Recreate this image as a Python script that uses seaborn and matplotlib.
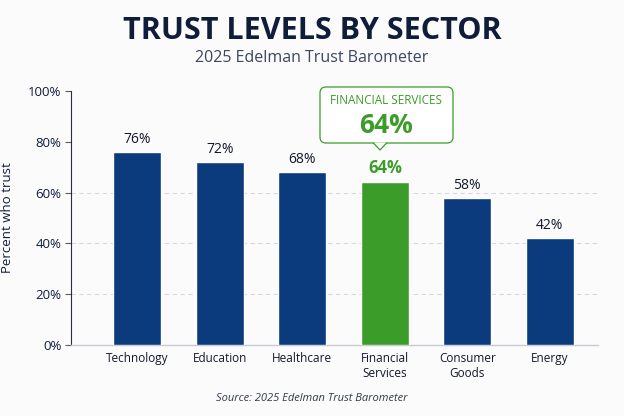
import matplotlib
matplotlib.use("Agg")
import matplotlib.pyplot as plt
import seaborn as sns
import pandas as pd
from matplotlib.patches import FancyBboxPatch, Polygon

# Datos del grafico
sectors = ["Technology", "Education", "Healthcare", "Financial\nServices", "Consumer\nGoods", "Energy"]
trust = [76, 72, 68, 64, 58, 42]
highlight = "Financial\nServices"
yticks = [0, 20, 40, 60, 80, 100]

navy = "#0b3b7c"
green = "#3c9c2a"
dark = "#0f1d3a"

sns.set_theme(style="white")
plt.rcParams["font.family"] = ["Open Sans", "DejaVu Sans"]

df = pd.DataFrame({"sector": sectors, "trust": trust})
colors = [green if s == highlight else navy for s in sectors]

fig = plt.figure(figsize=(6.24, 4.16), dpi=100, facecolor="#fbfbfc")
ax = fig.add_axes([0.114, 0.171, 0.844, 0.61])
ax.set_facecolor("#fbfbfc")

sns.barplot(data=df, x="sector", y="trust", hue="sector", palette=colors,
            legend=False, width=0.58, saturation=1, ax=ax, zorder=3)

# lineas de grilla punteadas
for g in [20, 40, 60]:
    ax.axhline(g, color="#d5d8de", lw=0.8, ls=(0, (4, 3)), zorder=1)

ax.set_xlim(-0.8, 5.58)
ax.set_ylim(0, 100)
ax.set_yticks(yticks)
ax.set_yticklabels([f"{t}%" for t in yticks], fontsize=9.5, color=dark)
ax.tick_params(axis="y", length=4, width=0.8, color="#555b66", left=True, pad=3)
ax.tick_params(axis="x", length=0, labelsize=8.5, labelcolor="#14192a", pad=5)
ax.set_xlabel("")
ax.set_ylabel("Percent who trust", fontsize=9.5, color=dark, labelpad=10)

sns.despine(ax=ax)
ax.spines["left"].set_color("#2a2f3a")
ax.spines["left"].set_linewidth(0.8)
ax.spines["bottom"].set_color("#c8ccd2")
ax.spines["bottom"].set_linewidth(1.0)

# etiquetas de valor
for i, (s, v) in enumerate(zip(sectors, trust)):
    if s == highlight:
        ax.text(i, v + 2.3, f"{v}%", ha="center", va="bottom", fontsize=12,
                fontweight="bold", color=green)
    else:
        ax.text(i, v + 2.0, f"{v}%", ha="center", va="bottom", fontsize=10,
                color="#111827")

# recuadro destacado
tr = fig.dpi_scale_trans
box = FancyBboxPatch((3.20, 2.73), 1.33, 0.56, boxstyle="round,pad=0,rounding_size=0.06",
                     transform=tr, facecolor="white", edgecolor=green, lw=0.9)
fig.patches.append(box)
tri = Polygon([(3.73, 2.735), (3.80, 2.66), (3.87, 2.735)], closed=False,
              transform=tr, facecolor="white", edgecolor=green, lw=0.9)
fig.patches.append(tri)
fig.text(3.865 / 6.24, 3.16 / 4.16, "FINANCIAL SERVICES", ha="center", va="center",
         fontsize=8.5, color=green)
fig.text(3.865 / 6.24, 2.905 / 4.16, "64%", ha="center", va="center",
         fontsize=19, fontweight="bold", color=green)

fig.text(0.5, 0.925, "TRUST LEVELS BY SECTOR", ha="center", va="center",
         fontsize=22, fontweight="bold", color=dark)
fig.text(0.5, 0.86, "2025 Edelman Trust Barometer", ha="center", va="center",
         fontsize=11.5, color="#3b4760")
fig.text(0.5, 0.043, "Source: 2025 Edelman Trust Barometer", ha="center", va="center",
         fontsize=8, style="italic", color="#333a46")

plt.savefig("out.png", dpi=100, facecolor=fig.get_facecolor())
